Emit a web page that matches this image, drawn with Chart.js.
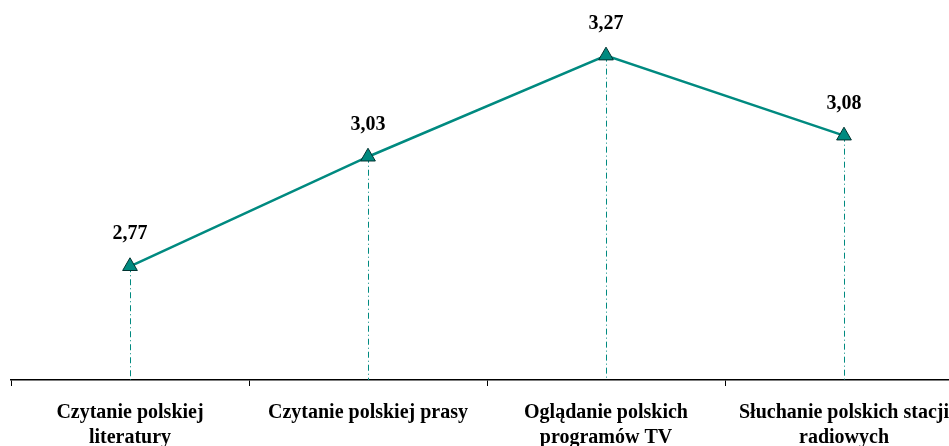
<!DOCTYPE html>
<html>
<head>
<meta charset="utf-8">
<script src="https://cdn.jsdelivr.net/npm/chart.js@4/dist/chart.umd.min.js"></script>
<style>
  html, body { margin: 0; padding: 0; background: #fff; overflow: hidden; }
  #wrap { width: 949px; height: 446px; overflow: hidden; }
</style>
</head>
<body>
<div id="wrap"><canvas id="chart" width="990" height="470"></canvas></div>
<script>
// Data
const categories = [
  ["Czytanie polskiej", "literatury"],
  ["Czytanie polskiej prasy"],
  ["Oglądanie polskich", "programów TV"],
  ["Słuchanie polskich stacji", "radiowych"]
];
const values = [2.77, 3.03, 3.27, 3.08];
const valueLabels = ["2,77", "3,03", "3,27", "3,08"];

const TEAL = "#008A80";
const SERIF = "'Liberation Serif', 'Times New Roman', serif";

// drop lines + value labels
const extras = {
  id: "extras",
  beforeDatasetsDraw(c) {
    const ctx = c.ctx, meta = c.getDatasetMeta(0), bottom = c.chartArea.bottom;
    ctx.save();
    ctx.strokeStyle = TEAL;
    ctx.lineWidth = 1;
    ctx.setLineDash([6, 3, 1, 3]);
    meta.data.forEach(p => {
      ctx.beginPath();
      ctx.moveTo(Math.round(p.x) + 0.5, p.y);
      ctx.lineTo(Math.round(p.x) + 0.5, bottom);
      ctx.stroke();
    });
    ctx.restore();
  },
  afterDatasetsDraw(c) {
    const ctx = c.ctx, meta = c.getDatasetMeta(0);
    ctx.save();
    ctx.fillStyle = "#000";
    ctx.font = "bold 20px " + SERIF;
    ctx.textAlign = "center";
    ctx.textBaseline = "alphabetic";
    meta.data.forEach((p, i) => ctx.fillText(valueLabels[i], p.x, p.y - 27));
    ctx.restore();
  }
};

new Chart(document.getElementById("chart"), {
  type: "line",
  data: {
    labels: categories,
    datasets: [{
      data: values,
      borderColor: TEAL,
      borderWidth: 2.5,
      tension: 0,
      pointStyle: "triangle",
      pointRadius: 8.5,
      pointBackgroundColor: TEAL,
      pointBorderColor: "#003330",
      pointBorderWidth: 1
    }]
  },
  options: {
    responsive: false,
    animation: false,
    layout: { padding: { left: 11, right: 27, top: 43, bottom: 6 } },
    plugins: { legend: { display: false }, tooltip: { enabled: false } },
    scales: {
      y: { display: false, min: 2.5, max: 3.3 },
      x: {
        offset: true,
        border: { color: "#000", width: 1.5 },
        grid: { offset: true, drawOnChartArea: false, color: "#000", tickLength: 6 },
        ticks: {
          color: "#000",
          padding: 14,
          autoSkip: false,
          maxRotation: 0,
          font: { family: SERIF, size: 20, weight: "bold", lineHeight: 1.25 }
        }
      }
    }
  },
  plugins: [extras]
});
</script>
</body>
</html>
